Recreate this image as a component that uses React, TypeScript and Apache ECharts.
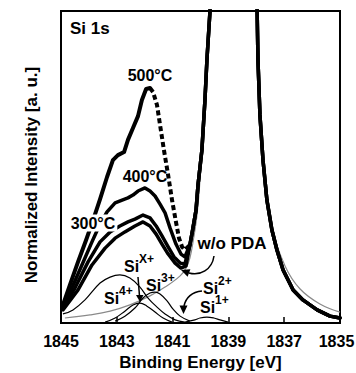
import React, { useEffect, useRef } from "react";
import * as echarts from "echarts";

// Binding-energy ticks (eV)
const xTicks = [1845, 1843, 1841, 1839, 1837, 1835];

// Shared Si substrate (Si0) peak of the normalized spectra [eV, intensity]
const siPeak: number[][] = [
  [1840.38, 25.0], [1840.27, 30.4], [1840.16, 36.2], [1840.09, 44.2], [1839.95, 55.4],
  [1839.84, 71.5], [1839.77, 84.3], [1839.66, 100], [1839.62, 110], [1838.0, 110],
  [1837.97, 100], [1837.94, 84.3], [1837.87, 66.7], [1837.76, 52.2], [1837.62, 39.4],
  [1837.44, 29.8], [1837.26, 23.4], [1837.04, 17.0], [1836.68, 10.6], [1836.33, 7.4],
  [1835.82, 4.2], [1835.36, 2.2], [1835.0, 1.6],
];

// Oxide region of each spectrum
const oxide500Rise: number[][] = [
  [1844.93, 5.8], [1844.68, 12.2], [1844.39, 19.6], [1844.10, 26.6], [1843.85, 33.0],
  [1843.60, 39.7], [1843.35, 46.8], [1843.14, 52.2], [1842.96, 53.8], [1842.74, 54.8],
  [1842.60, 58.7], [1842.42, 62.5], [1842.24, 66.3], [1842.10, 71.5], [1841.95, 75.0],
  [1841.81, 75.3],
];
const oxide500Fall: number[][] = [
  [1841.81, 75.3], [1841.70, 74.0], [1841.56, 69.9], [1841.45, 63.5], [1841.31, 55.4],
  [1841.16, 47.4], [1841.02, 39.4], [1840.88, 32.4], [1840.77, 27.2], [1840.66, 24.4],
  [1840.56, 23.4], [1840.38, 25.0],
];
const oxide400: number[][] = [
  [1844.93, 5.1], [1844.61, 11.2], [1844.25, 18.6], [1843.89, 26.0], [1843.60, 31.7],
  [1843.35, 35.6], [1843.06, 38.5], [1842.81, 39.4], [1842.60, 40.1], [1842.42, 41.0],
  [1842.24, 42.3], [1841.99, 43.3], [1841.81, 42.3], [1841.63, 40.7], [1841.45, 38.1],
  [1841.27, 35.3], [1841.09, 30.4], [1840.88, 25.3], [1840.70, 22.1], [1840.56, 21.2],
];
const oxide300: number[][] = [
  [1844.93, 4.8], [1844.50, 11.2], [1844.03, 19.6], [1843.60, 26.0], [1843.24, 29.2],
  [1842.89, 31.1], [1842.60, 32.4], [1842.35, 33.3], [1842.06, 34.6], [1841.81, 33.7],
  [1841.59, 31.1], [1841.38, 27.9], [1841.16, 24.4], [1840.95, 21.2], [1840.73, 19.2],
  [1840.56, 18.9],
];
const oxideNoPDA: number[][] = [
  [1844.93, 4.2], [1844.39, 10.6], [1843.89, 18.6], [1843.42, 24.0], [1843.06, 27.2],
  [1842.71, 29.2], [1842.35, 31.1], [1842.06, 32.4], [1841.81, 31.1], [1841.59, 28.5],
  [1841.38, 25.3], [1841.16, 22.1], [1840.91, 19.2], [1840.70, 17.6], [1840.52, 18.3],
];

// Fitted components (w/o PDA)
const fitSi4: number[][] = [
  [1844.93, 2.9], [1844.57, 4.2], [1844.14, 7.4], [1843.60, 12.8], [1843.24, 14.7],
  [1842.89, 15.4], [1842.53, 14.4], [1842.17, 11.5], [1841.88, 8.0], [1841.56, 5.1],
  [1841.27, 2.9], [1840.91, 1.0], [1840.56, 0.3],
];
const fitSiX: number[][] = [
  [1843.42, 0.3], [1843.06, 1.6], [1842.71, 3.8], [1842.42, 5.8], [1842.17, 6.4],
  [1841.92, 5.4], [1841.63, 3.5], [1841.34, 1.6], [1841.02, 0.3],
];
const fitSi3: number[][] = [
  [1843.06, 0.6], [1842.71, 2.2], [1842.35, 4.8], [1842.06, 8.0], [1841.81, 9.6],
  [1841.63, 9.9], [1841.45, 9.3], [1841.20, 7.1], [1840.99, 4.5], [1840.73, 2.2],
  [1840.38, 0.6],
];
const fitSi1: number[][] = [
  [1840.56, 0.3], [1840.20, 1.0], [1840.02, 1.6], [1839.77, 1.9], [1839.52, 1.6],
  [1839.30, 1.0], [1839.01, 0.3],
];
const fitSi0: number[][] = [
  [1844.86, 1.6], [1843.96, 2.6], [1843.24, 3.8], [1842.53, 5.8], [1841.81, 8.7],
  [1841.27, 11.5], [1840.73, 15.1], [1840.52, 17.6], [1840.38, 20.8], [1840.25, 27],
  [1840.12, 35], [1840.0, 48], [1839.85, 68], [1839.7, 92], [1839.62, 110], [1838.0, 110],
  [1837.93, 90], [1837.82, 62], [1837.66, 44], [1837.51, 32.4], [1836.97, 18.3],
  [1836.43, 10.9], [1835.72, 6.1], [1835.0, 3.5],
];

const FONT = "'Liberation Sans', Arial, Helvetica, sans-serif";

function txt(text: string, x: number, y: number, size: number, align = "center", bg = false) {
  const style: any = {
    text,
    fill: "#000",
    font: `bold ${size}px ${FONT}`,
    align,
    verticalAlign: "middle",
  };
  if (bg) {
    style.backgroundColor = "#fff";
    style.padding = [1, 2, 0, 2];
  }
  return { type: "text", x, y, z: 100, style };
}

function siLabel(sup: string, x: number, y: number) {
  return [txt("Si", x, y, 16, "left"), txt(sup, x + 15, y - 7, 12, "left")];
}

function arrowHead(tip: number[], base1: number[], base2: number[]) {
  return {
    type: "polygon",
    z: 100,
    shape: { points: [tip, base1, base2] },
    style: { fill: "#000" },
  };
}

export default function App() {
  const ref = useRef<HTMLDivElement>(null);
  useEffect(() => {
    if (!ref.current) return;
    const chart = echarts.init(ref.current, undefined, { renderer: "svg" });
    const thick = (name: string, data: number[][], width: number, dashed = false) => ({
      name,
      type: "line",
      data,
      showSymbol: false,
      smooth: false,
      clip: true,
      lineStyle: dashed
        ? { color: "#000", width, type: [5, 3], join: "miter", cap: "butt" }
        : { color: "#000", width, type: "solid", join: "round", cap: "round" },
      z: 5,
    });
    const thin = (name: string, data: number[][], color = "#000") => ({
      name,
      type: "line",
      data,
      showSymbol: false,
      smooth: 0.4,
      clip: true,
      lineStyle: { color, width: 1.2 },
      z: 3,
    });
    const labelFont = { fontSize: 16, fontWeight: "bold", fontFamily: FONT, color: "#000" };
    chart.setOption({
      animation: false,
      grid: {
        left: 61,
        right: 16,
        top: 11,
        bottom: 50,
        outerBoundsMode: "none",
        containLabel: false,
        show: true,
        borderColor: "#000",
        borderWidth: 2,
        backgroundColor: "transparent",
      },
      xAxis: {
        type: "value",
        inverse: true,
        min: 1835,
        max: 1845,
        interval: 2,
        axisLine: { show: true, lineStyle: { color: "#000", width: 2 } },
        axisTick: { show: true, inside: true, length: 6, lineStyle: { color: "#000", width: 1.5 } },
        axisLabel: {
          show: true,
          margin: 10,
          ...labelFont,
          formatter: (v: number) =>
            !xTicks.includes(v) ? "" : v === 1835 ? "{r|1835}" : String(v),
          rich: { r: { ...labelFont, padding: [0, 7, 0, 0] } },
        },
        splitLine: { show: false },
        name: "Binding Energy [eV]",
        nameLocation: "middle",
        nameGap: 30,
        nameTextStyle: { fontSize: 17, fontWeight: "bold", fontFamily: FONT, color: "#000" },
      },
      yAxis: {
        type: "value",
        min: 0,
        max: 100,
        axisLine: { show: false },
        axisTick: { show: false },
        axisLabel: { show: false },
        splitLine: { show: false },
      },
      series: [
        thin("Si0 fit", fitSi0, "#8a8a8a"),
        thin("Si4+", fitSi4),
        thin("SiX+", fitSiX),
        thin("Si3+", fitSi3),
        thin("Si1+", fitSi1),
        thick("w/o PDA", oxideNoPDA.concat(siPeak), 3.5),
        thick("300°C", oxide300.concat(siPeak), 3.5),
        thick("400°C", oxide400.concat(siPeak), 3.5),
        thick("500°C", oxide500Rise, 4),
        thick("500°C ", oxide500Fall, 4, true),
      ],
      graphic: [
        {
          type: "text",
          x: 31,
          y: 175,
          rotation: Math.PI / 2,
          z: 100,
          style: {
            text: "Normalized Intensity [a. u.]",
            fill: "#000",
            font: `bold 17px ${FONT}`,
            align: "center",
            verticalAlign: "middle",
          },
        },
        txt("Si 1s", 70, 28, 17, "left"),
        txt("500°C", 150, 75, 16),
        txt("400°C", 145, 176, 16),
        txt("300°C", 93, 223, 16, "center", true),
        txt("w/o PDA", 232, 243, 17),
        ...siLabel("X+", 124, 266),
        ...siLabel("4+", 104, 298),
        ...siLabel("3+", 146, 285),
        ...siLabel("2+", 203, 288),
        ...siLabel("1+", 200, 307),
        {
          type: "bezierCurve",
          z: 100,
          shape: { x1: 214, y1: 256, cpx1: 212, cpy1: 270, cpx2: 200, cpy2: 276, x2: 189, y2: 273 },
          style: { stroke: "#000", lineWidth: 1.5, fill: "none" },
        },
        arrowHead([181, 270], [190.4, 269.3], [187.6, 276.7]),
        {
          type: "bezierCurve",
          z: 100,
          shape: { x1: 202, y1: 291, cpx1: 193, cpy1: 292, cpx2: 186, cpy2: 297, x2: 184, y2: 306 },
          style: { stroke: "#000", lineWidth: 1.5, fill: "none" },
        },
        arrowHead([183.5, 314], [179.5, 305.5], [187.5, 305.5]),
        {
          type: "line",
          z: 100,
          shape: { x1: 138, y1: 277, x2: 139.5, y2: 296 },
          style: { stroke: "#000", lineWidth: 1.5 },
        },
        arrowHead([140, 302], [136, 295], [143.5, 295]),
      ],
    });
    return () => chart.dispose();
  }, []);
  return (
    <div
      ref={ref}
      style={{ position: "fixed", left: 0, top: 0, width: 356, height: 373, background: "#fff" }}
    />
  );
}
